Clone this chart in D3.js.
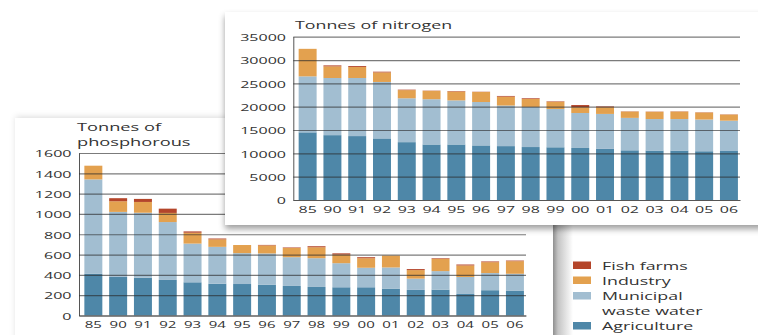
<!DOCTYPE html>
<html>
<head>
<meta charset="utf-8">
<script src="https://cdn.jsdelivr.net/npm/d3@7"></script>
<style>
  html, body { margin: 0; padding: 0; background: #fff; }
  svg { display: block; }
  text { font-family: "Open Sans", sans-serif; fill: #333; }
</style>
</head>
<body>
<svg id="chart" width="758" height="335"></svg>
<script>
// Years shown on both panels
const years = ["85","90","91","92","93","94","95","96","97","98","99","00","01","02","03","04","05","06"];

// Nitrogen discharges, tonnes
const nitrogenAgriculture = [14500,13900,13700,13200,12400,11900,11900,11700,11550,11350,11300,11150,10950,10650,10600,10600,10450,10500];
const nitrogenMunicipal   = [12000,12250,12450,12100,9400,9700,9450,9300,8700,8600,8200,7500,7500,6950,6750,6750,6800,6500];
const nitrogenIndustry    = [5900,2500,2350,2050,1750,1800,1900,2150,1900,1700,1550,1250,1450,1350,1550,1600,1500,1300];
const nitrogenFishFarms   = [0,200,200,150,100,50,100,50,150,150,100,450,150,50,50,50,50,50];

// Phosphorus discharges, tonnes
const phosphorusAgriculture = [410,380,372,350,327,313,310,304,291,281,278,278,265,252,255,212,249,242];
const phosphorusMunicipal   = [930,640,640,570,381,363,304,307,283,283,237,192,208,111,182,167,169,169];
const phosphorusIndustry    = [135,105,106,90,107,74,80,79,91,108,85,94,117,84,121,114,107,124];
const phosphorusFishFarms   = [0,30,30,42,13,8,0,5,5,10,12,10,0,10,6,9,7,6];

// Axis ticks
const nitrogenTicks   = [0,5000,10000,15000,20000,25000,30000,35000];
const phosphorusTicks = [0,200,400,600,800,1000,1200,1400,1600];

// Legend (top to bottom) and series order (bottom to top)
const seriesKeys   = ["agriculture","municipal","industry","fishFarms"];
const legendKeys   = ["fishFarms","industry","municipal","agriculture"];
const legendLabels = [["Fish farms"],["Industry"],["Municipal","waste water"],["Agriculture"]];
const seriesColors = ["#4e87a8","#a2bed1","#e3a14f","#b4452a"];

const color = d3.scaleOrdinal().domain(seriesKeys).range(seriesColors);
const svg = d3.select("#chart");
const defs = svg.append("defs");

const shadowP = defs.append("filter").attr("id","shadowP")
  .attr("x","-5%").attr("y","-10%").attr("width","110%").attr("height","120%");
shadowP.append("feDropShadow").attr("dx",1).attr("dy",-1).attr("stdDeviation",3)
  .attr("flood-color","#000").attr("flood-opacity",0.15);

const shadowN = defs.append("filter").attr("id","shadowN")
  .attr("x","-5%").attr("y","-10%").attr("width","110%").attr("height","125%");
shadowN.append("feDropShadow").attr("dx",0).attr("dy",4).attr("stdDeviation",3)
  .attr("flood-color","#000").attr("flood-opacity",0.38);

const edge = defs.append("linearGradient").attr("id","edgeShade")
  .attr("x1","0").attr("x2","1").attr("y1","0").attr("y2","0");
edge.append("stop").attr("offset","0").attr("stop-color","#8f8f8f");
edge.append("stop").attr("offset","0.25").attr("stop-color","#c4c4c4");
edge.append("stop").attr("offset","1").attr("stop-color","#ffffff");

function rows(agri, muni, ind, fish) {
  return years.map((yr, i) => ({
    year: yr, agriculture: agri[i], municipal: muni[i], industry: ind[i], fishFarms: fish[i]
  }));
}

// widen glyphs horizontally while keeping the anchor point in place
function stretchText(sel, sx) {
  sel.each(function() {
    const t = d3.select(this);
    const x = +t.attr("x") || 0;
    t.attr("x", x / sx).attr("transform", `scale(${sx},1)`);
  });
}

function panel(cfg) {
  const data = rows(...cfg.values);
  const stacked = d3.stack().keys(seriesKeys)(data);

  const x = d3.scaleBand().domain(years).range(cfg.xRange)
    .paddingInner(0.275).paddingOuter(0.15).align(0.72);
  const y = d3.scaleLinear().domain([0, cfg.ticks[cfg.ticks.length - 1]]).range(cfg.yRange);

  const g = svg.append("g");

  g.selectAll("g.series").data(stacked).join("g")
    .attr("class","series")
    .attr("fill", d => color(d.key))
    .selectAll("rect").data(d => d).join("rect")
      .attr("x", d => x(d.data.year))
      .attr("width", x.bandwidth())
      .attr("y", d => y(d[1]))
      .attr("height", d => y(d[0]) - y(d[1]));

  // value axis with gridlines laid over the bars
  const yAxis = g.append("g")
    .attr("transform", `translate(${cfg.xRange[0]},0)`)
    .call(d3.axisLeft(y).tickValues(cfg.ticks).tickFormat(d3.format("d"))
      .tickSize(-(cfg.xRange[1] - cfg.xRange[0])).tickSizeOuter(0).tickPadding(cfg.yPad));
  yAxis.select(".domain").attr("stroke","#555").attr("stroke-width",1);
  yAxis.selectAll(".tick line").attr("stroke","#2a2a2a").attr("stroke-opacity",0.62).attr("stroke-width",1.2);
  yAxis.selectAll(".tick text").attr("font-size", cfg.tickFont).attr("fill","#333")
    .attr("dy","0.4em").attr("font-family", null);
  stretchText(yAxis.selectAll(".tick text"), cfg.yStretch);

  const xAxis = g.append("g")
    .attr("transform", `translate(0,${cfg.yRange[0]})`)
    .call(d3.axisBottom(x).tickSize(0).tickPadding(cfg.xPad));
  xAxis.select(".domain").attr("stroke","#555").attr("stroke-width",1.2);
  xAxis.selectAll(".tick text").attr("font-size", cfg.tickFont).attr("fill","#333")
    .attr("font-family", null);
  stretchText(xAxis.selectAll(".tick text"), cfg.xStretch);

  // title, one text element with a line per tspan
  const title = g.append("text")
    .attr("transform", `translate(${cfg.titleX},${cfg.titleY}) scale(${cfg.titleStretch},1)`)
    .attr("font-size", cfg.titleFont)
    .attr("fill", "#222");
  cfg.title.forEach((line, i) => {
    title.append("tspan")
      .attr("x", 0)
      .attr("dy", i === 0 ? 0 : cfg.titleLead)
      .text(line);
  });
}

// Phosphorus card (behind)
svg.append("rect").attr("x",15).attr("y",118).attr("width",538).attr("height",240)
  .attr("fill","#fff").attr("filter","url(#shadowP)");
svg.append("rect").attr("x",553).attr("y",224).attr("width",20).attr("height",120)
  .attr("fill","url(#edgeShade)");

panel({
  values: [phosphorusAgriculture, phosphorusMunicipal, phosphorusIndustry, phosphorusFishFarms],
  ticks: phosphorusTicks,
  xRange: [79, 526], yRange: [315.5, 153],
  yPad: 7.5, xPad: 5.3, tickFont: 9.5, yStretch: 1.69, xStretch: 1.58,
  title: ["Tonnes of", "phosphorous"], titleX: 77, titleY: 131, titleLead: 14.6,
  titleFont: 10.6, titleStretch: 1.72
});

// Nitrogen card (in front)
svg.append("rect").attr("x",225).attr("y",12).attr("width",560).attr("height",213)
  .attr("fill","#fff").attr("filter","url(#shadowN)");

panel({
  values: [nitrogenAgriculture, nitrogenMunicipal, nitrogenIndustry, nitrogenFishFarms],
  ticks: nitrogenTicks,
  xRange: [293.3, 740], yRange: [200, 36.7],
  yPad: 7.3, xPad: 6, tickFont: 9.5, yStretch: 1.69, xStretch: 1.68,
  title: ["Tonnes of nitrogen"], titleX: 295, titleY: 29.3, titleLead: 0,
  titleFont: 10.8, titleStretch: 1.65
});

// Legend
const legend = svg.append("g").attr("transform","translate(573,0)");
const baselines = [269.5, 284.5, 300, 330];
legendKeys.forEach((key, i) => {
  const b = baselines[i];
  legend.append("rect").attr("x",0).attr("y",b - 8).attr("width",18).attr("height",7.5)
    .attr("fill", color(key));
  const label = legend.append("text")
    .attr("transform", `translate(29,${b}) scale(1.65,1)`)
    .attr("font-size", 10.8).attr("fill","#222");
  legendLabels[i].forEach((line, j) => {
    label.append("tspan").attr("x", 0).attr("dy", j === 0 ? 0 : 15).text(line);
  });
});
</script>
</body>
</html>
